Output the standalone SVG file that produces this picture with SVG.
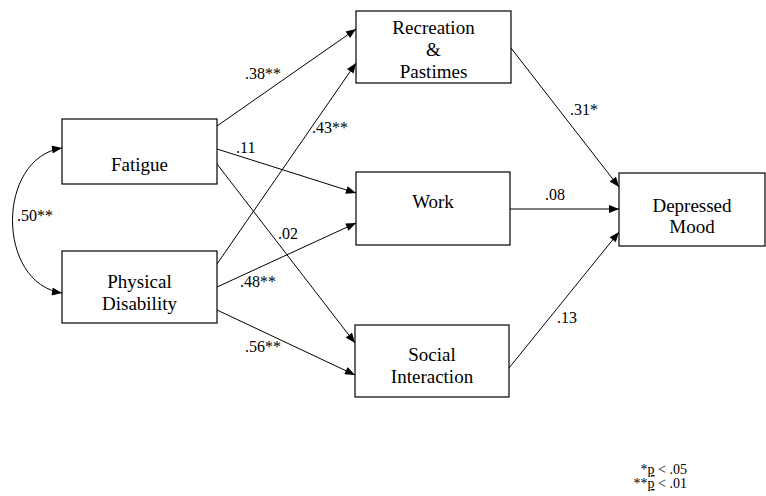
<svg xmlns="http://www.w3.org/2000/svg" width="766" height="496" viewBox="0 0 766 496">
<style>
.box{fill:#fff;stroke:#000;stroke-width:1.2}
.nt{font-family:'Liberation Serif','Times New Roman','DejaVu Serif',serif;font-size:19px;fill:#000;text-anchor:middle}
.lb{font-family:'Liberation Serif','Times New Roman','DejaVu Serif',serif;font-size:16px;fill:#000}
.ft{font-family:'Liberation Serif','Times New Roman','DejaVu Serif',serif;font-size:14px;fill:#000;text-anchor:end}
.ed{fill:none;stroke:#000;stroke-width:1;marker-end:url(#ah)}
</style>
<defs>
<marker id="ah" viewBox="0 0 10 8" refX="10" refY="4" markerWidth="11" markerHeight="8" markerUnits="userSpaceOnUse" orient="auto-start-reverse">
<path d="M0,0 L10,4 L0,8 z" fill="#000"/>
</marker>
</defs>
<rect width="766" height="496" fill="#fff"/>
<g id="connectors">
<path class="ed" d="M217,126 L356,29"/>
<path class="ed" d="M217,264 L356,63"/>
<path class="ed" d="M217,149 L356,193"/>
<path class="ed" d="M217,287 L356,223"/>
<path class="ed" d="M217,164 L355,343"/>
<path class="ed" d="M217,310 L355,375"/>
<path class="ed" d="M511,48 L619,187"/>
<path class="ed" d="M510,209 L619,209"/>
<path class="ed" d="M509,368 L619,232"/>
<path class="ed" style="marker-start:url(#ah)" d="M62,148 C-4,158 -4,283 62,293"/>
</g>
<g id="labels">
<text class="lb" x="245" y="79">.38**</text>
<text class="lb" x="312" y="133">.43**</text>
<text class="lb" x="236" y="153">.11</text>
<text class="lb" x="278" y="239">.02</text>
<text class="lb" x="240" y="287">.48**</text>
<text class="lb" x="245" y="352">.56**</text>
<text class="lb" x="17" y="221">.50**</text>
<text class="lb" x="570" y="115">.31*</text>
<text class="lb" x="545" y="200">.08</text>
<text class="lb" x="557" y="323">.13</text>
</g>
<g id="fatigue">
<rect class="box" x="62" y="119" width="155" height="65"/>
<text class="nt" x="139.5" y="171">Fatigue</text>
</g>
<g id="physical-disability">
<rect class="box" x="62" y="251" width="155" height="72"/>
<text class="nt" x="139.5" y="288">Physical</text>
<text class="nt" x="139.5" y="310">Disability</text>
</g>
<g id="recreation">
<rect class="box" x="356" y="11" width="155" height="72"/>
<text class="nt" x="433.5" y="34">Recreation</text>
<text class="nt" x="433.5" y="56">&amp;</text>
<text class="nt" x="433.5" y="78">Pastimes</text>
</g>
<g id="work">
<rect class="box" x="356" y="172" width="154" height="73"/>
<text class="nt" x="433" y="208">Work</text>
</g>
<g id="social-interaction">
<rect class="box" x="355" y="325" width="154" height="72"/>
<text class="nt" x="432" y="361">Social</text>
<text class="nt" x="432" y="383">Interaction</text>
</g>
<g id="depressed-mood">
<rect class="box" x="619" y="173" width="146" height="73"/>
<text class="nt" x="692" y="212">Depressed</text>
<text class="nt" x="692" y="233">Mood</text>
</g>
<g id="footnote">
<text class="ft" x="687" y="474">*<tspan text-decoration="underline">p</tspan> &lt; .05</text>
<text class="ft" x="687" y="488">**<tspan text-decoration="underline">p</tspan> &lt; .01</text>
</g>
</svg>
